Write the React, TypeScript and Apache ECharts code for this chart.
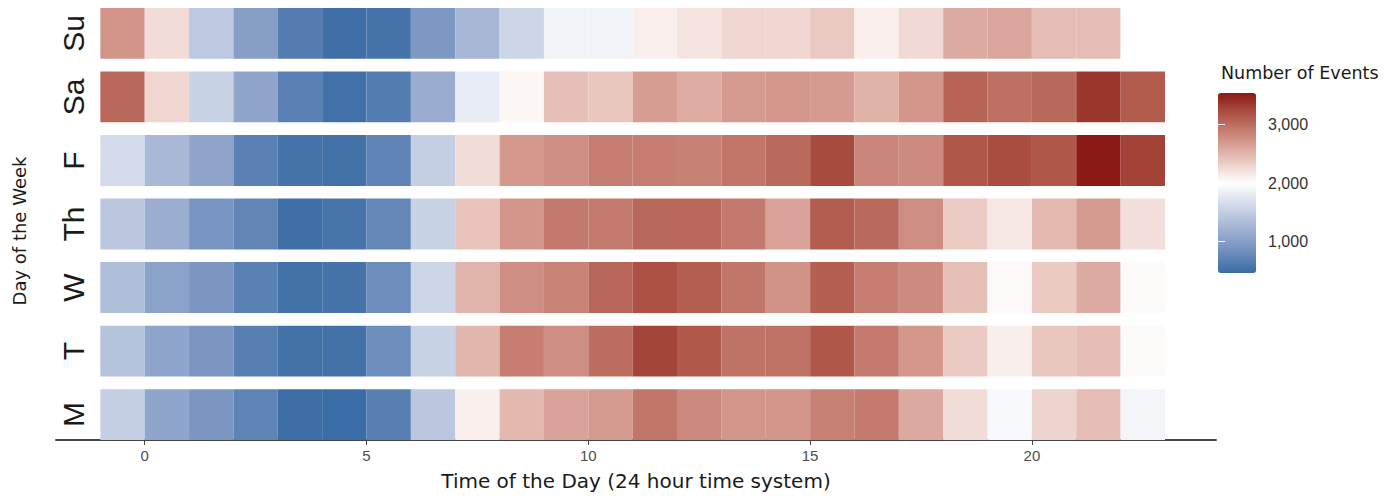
import React, { useEffect, useRef } from "react";
import * as echarts from "echarts";

const dayLabels = ["M", "T", "W", "Th", "F", "Sa", "Su"];
const hours = [0, 1, 2, 3, 4, 5, 6, 7, 8, 9, 10, 11, 12, 13, 14, 15, 16, 17, 18, 19, 20, 21, 22, 23];
const xTicks = [0, 5, 10, 15, 20];
const legendTicks = [1000, 2000, 3000];

const mon = [1515, 1078, 909, 708, 480, 460, 666, 1430, 2108, 2484, 2625, 2686, 2935, 2813, 2719, 2719, 2867, 2908, 2585, 2235, 1943, 2289, 2444, 1901];
const tue = [1389, 1078, 909, 666, 521, 521, 811, 1549, 2497, 2881, 2780, 3002, 3271, 3143, 2961, 2961, 3150, 2908, 2706, 2356, 2114, 2383, 2444, 2027];
const wed = [1339, 1045, 909, 680, 521, 543, 811, 1581, 2511, 2760, 2854, 3049, 3190, 3096, 2935, 2733, 3096, 2881, 2800, 2430, 2040, 2363, 2579, 2027];
const thu = [1430, 1174, 893, 742, 494, 549, 762, 1540, 2403, 2713, 2915, 2901, 3029, 3042, 2915, 2632, 3110, 3022, 2780, 2350, 2162, 2477, 2679, 2208];
const fri = [1647, 1281, 1070, 686, 543, 521, 714, 1515, 2235, 2699, 2760, 2888, 2881, 2861, 2941, 3022, 3231, 2827, 2800, 3150, 3217, 3150, 3540, 3284];
const sat = [3042, 2276, 1549, 1070, 680, 508, 639, 1166, 1812, 2060, 2424, 2377, 2659, 2565, 2686, 2706, 2679, 2525, 2713, 3063, 2982, 3029, 3365, 3123];
const sun = [2727, 2235, 1456, 1013, 646, 494, 543, 933, 1264, 1581, 1877, 1877, 2108, 2182, 2276, 2276, 2363, 2108, 2249, 2572, 2605, 2444, 2457, 2000];

const byDay = [mon, tue, wed, thu, fri, sat, sun];

const colorStops = ["#3A6CA5", "#7290BE", "#A2B3D3", "#D0D9E9", "#FFFFFF", "#E9C6BE", "#CF8E82", "#AF5749", "#8B1A16"];

export default function App() {
  const ref = useRef<HTMLDivElement>(null);

  useEffect(() => {
    if (!ref.current) return;
    const chart = echarts.init(ref.current, undefined, { renderer: "svg" });

    const data: number[][] = [];
    byDay.forEach((vals, d) => {
      vals.forEach((v, i) => data.push([hours[i], d + 1, v]));
    });
    const all = byDay.flat();
    const vMin = Math.min(...all);
    const vMax = Math.max(...all);

    const sansA = "Liberation Sans, Arial, sans-serif";
    const sansD = "DejaVu Sans, sans-serif";

    const option: any = {
      animation: false,
      backgroundColor: "#ffffff",
      title: {
        text: "Number of Events",
        left: 1216,
        top: 59,
        textStyle: { fontFamily: sansD, fontSize: 17.5, fontWeight: "normal", color: "#1A1A1A" },
      },
      grid: [
        { left: 56, right: 184, top: 8, bottom: 58 },
        { left: 1218, top: 93, width: 38, height: 180 },
      ],
      xAxis: [
        {
          type: "value",
          gridIndex: 0,
          min: -2,
          max: 24.15,
          name: "Time of the Day (24 hour time system)",
          nameLocation: "middle",
          nameGap: 31,
          nameTextStyle: { fontFamily: sansD, fontSize: 20, color: "#1A1A1A" },
          axisLine: { show: true, onZero: false, lineStyle: { color: "#444444", width: 2 } },
          axisTick: { show: true, length: 5, customValues: xTicks, lineStyle: { color: "#444444", width: 1 } },
          axisLabel: { customValues: xTicks, fontFamily: sansA, fontSize: 15, color: "#4D4D4D", margin: 8 },
          splitLine: { show: false },
        },
        { type: "value", gridIndex: 1, min: 0, max: 1, show: false },
      ],
      yAxis: [
        {
          type: "value",
          gridIndex: 0,
          min: 0.6,
          max: 7.4,
          name: "Day of the Week",
          nameLocation: "middle",
          nameGap: 28,
          nameTextStyle: { fontFamily: sansD, fontSize: 18, color: "#1A1A1A", padding: [0, 14, 0, 0] },
          axisLine: { show: false },
          axisTick: { show: false },
          splitLine: { show: false },
          axisLabel: {
            customValues: [1, 2, 3, 4, 5, 6, 7],
            inside: true,
            rotate: 90,
            margin: 2,
            fontFamily: sansA,
            fontSize: 30,
            color: "#1A1A1A",
            formatter: (v: number) => dayLabels[Math.round(v) - 1] ?? "",
          },
        },
        {
          type: "value",
          gridIndex: 1,
          min: vMin,
          max: vMax,
          position: "right",
          z: 10,
          axisLine: { show: false },
          splitLine: { show: false },
          axisTick: { show: true, inside: true, length: 7, customValues: legendTicks, lineStyle: { color: "#ffffff", width: 1 } },
          axisLabel: {
            customValues: legendTicks,
            margin: 12,
            fontFamily: sansA,
            fontSize: 16,
            color: "#333333",
            formatter: (v: number) => v.toLocaleString("en-US"),
          },
        },
        {
          type: "value",
          gridIndex: 1,
          min: vMin,
          max: vMax,
          position: "left",
          z: 10,
          axisLine: { show: false },
          splitLine: { show: false },
          axisLabel: { show: false },
          axisTick: { show: true, inside: true, length: 7, customValues: legendTicks, lineStyle: { color: "#ffffff", width: 1 } },
        },
      ],
      visualMap: {
        type: "continuous",
        seriesIndex: 0,
        dimension: 2,
        min: vMin,
        max: vMax,
        calculable: false,
        left: 1203,
        top: 78,
        itemWidth: 38,
        itemHeight: 180,
        text: ["", ""],
        showLabel: false,
        inRange: { color: colorStops },
      },
      series: [
        {
          type: "custom",
          xAxisIndex: 0,
          yAxisIndex: 0,
          data,
          encode: { x: 0, y: 1 },
          renderItem: (params: any, api: any) => {
            const h = api.value(0);
            const d = api.value(1);
            const p0 = api.coord([h - 1, d + 0.4]);
            const p1 = api.coord([h, d - 0.4]);
            return {
              type: "rect",
              shape: { x: p0[0], y: p0[1], width: p1[0] - p0[0], height: p1[1] - p0[1] },
              style: { fill: api.visual("color") },
            };
          },
        },
        {
          type: "custom",
          xAxisIndex: 1,
          yAxisIndex: 1,
          data: [],
          renderItem: () => null,
        },
      ],
    };

    chart.setOption(option);
    return () => chart.dispose();
  }, []);

  return <div ref={ref} style={{ position: "absolute", left: 0, top: 0, width: 1400, height: 498 }} />;
}
